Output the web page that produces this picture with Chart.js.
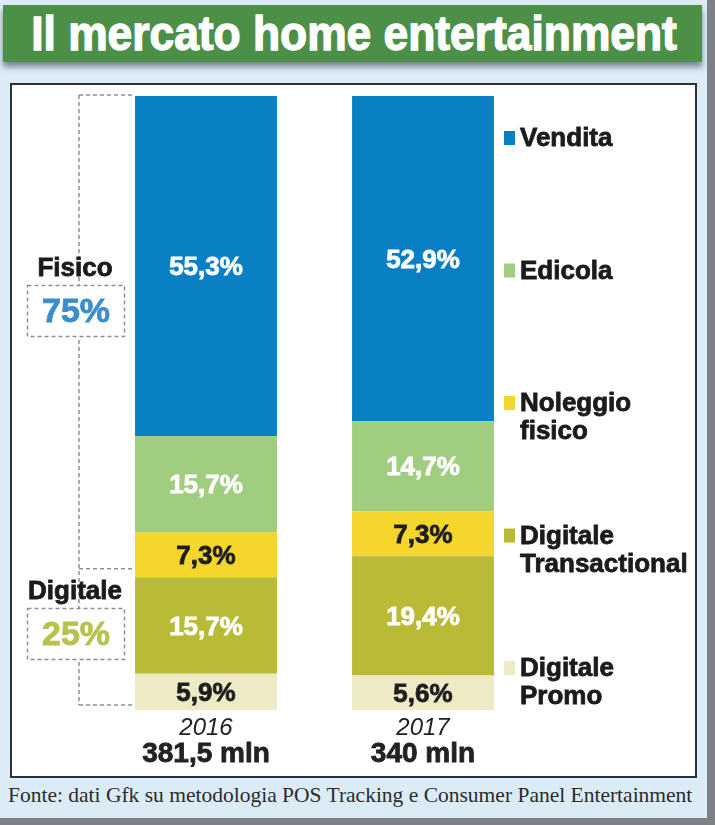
<!DOCTYPE html>
<html>
<head>
<meta charset="utf-8">
<script src="https://cdn.jsdelivr.net/npm/chart.js@4.4.1/dist/chart.umd.min.js"></script>
<style>
    body { margin: 0; width: 715px; height: 825px; background: #dcecf7; position: relative; overflow: hidden; font-family: "Liberation Sans", Arial, sans-serif; }
    #shadow-right { position: absolute; left: 707px; top: 0; width: 8px; height: 825px; background: #7d8185; }
    #shadow-bottom { position: absolute; left: 0; top: 818px; width: 715px; height: 7px; background: #7d8185; }
    #banner { position: absolute; left: 3px; top: 5px; width: 699px; height: 57px; background: #4c9047; box-shadow: 0 5px 6px rgba(40, 50, 60, 0.55); }
    #banner span { display: block; text-align: center; color: #fff; font-weight: bold; font-size: 49px; line-height: 57px; transform: translateX(-5px) scaleX(0.905); white-space: nowrap; -webkit-text-stroke: 1.4px #fff; }
    #panel { position: absolute; left: 10px; top: 83px; width: 683px; height: 691px; background: #fff; border: 2px solid #2e3133; }
    #footer { position: absolute; left: 8px; top: 783px; font-family: "Liberation Serif", "DejaVu Serif", serif; font-size: 21.5px; color: #2b2b2b; white-space: nowrap; }
    #chart { position: absolute; left: 0; top: 0; }
</style>
</head>
<body>
<div id="shadow-right"></div>
<div id="shadow-bottom"></div>
<div id="banner"><span>Il mercato home entertainment</span></div>
<div id="panel"></div>
<div id="footer">Fonte: dati Gfk su metodologia POS Tracking e Consumer Panel Entertainment</div>
<canvas id="chart" width="715" height="825"></canvas>

<script>
// Chart data
const years = ['2016', '2017'];
const totals = ['381,5 mln', '340 mln'];
const segments = ['Vendita', 'Edicola', 'Noleggio fisico', 'Digitale Transactional', 'Digitale Promo'];
const vendita = [55.3, 52.9];
const edicola = [15.7, 14.7];
const noleggio = [7.3, 7.3];
const digitaleTransactional = [15.7, 19.4];
const digitalePromo = [5.9, 5.6];
const groupNames = ['Fisico', 'Digitale'];
const groupShares = ['75%', '25%'];
const groupSplit = 23; // where the Fisico / Digitale bracket is split (% from bottom)

// Styles, top segment first
const segmentColors = ['#0a80c4', '#a0cd80', '#f4d62c', '#b9bb37', '#efeac6'];
const labelColors = ['#ffffff', '#ffffff', '#1e1e1e', '#ffffff', '#1e1e1e'];
const groupColors = ['#3a8ecb', '#b7c24c'];

const seriesValues = [vendita, edicola, noleggio, digitaleTransactional, digitalePromo];

function formatPct(v) {
    return v.toFixed(1).replace('.', ',') + '%';
}

// Stacked bars draw from the bottom up, so feed the series in reverse
const datasets = seriesValues.map((values, i) => ({
    label: segments[i],
    data: values,
    backgroundColor: segmentColors[i],
    labelColor: labelColors[i],
    borderWidth: 0,
    categoryPercentage: 1,
    barPercentage: 0.654
})).reverse();

function dashedLine(ctx, x1, y1, x2, y2) {
    ctx.beginPath();
    ctx.moveTo(x1, y1);
    ctx.lineTo(x2, y2);
    ctx.stroke();
}

// bold text drawn with a thin outline of the same colour, to get the heavy look
function heavyText(ctx, text, x, y, color) {
    ctx.fillStyle = color;
    ctx.strokeStyle = color;
    ctx.lineWidth = 0.8;
    ctx.fillText(text, x, y);
    ctx.strokeText(text, x, y);
}

const overlayPlugin = {
    id: 'overlay',
    afterDatasetsDraw(chart) {
        const ctx = chart.ctx;
        const xScale = chart.scales.x;
        const yScale = chart.scales.y;
        ctx.save();
        ctx.textAlign = 'center';
        ctx.textBaseline = 'middle';

        // Values inside the segments
        ctx.font = 'bold 26px "Liberation Sans", Arial, sans-serif';
        chart.data.datasets.forEach((ds, i) => {
            chart.getDatasetMeta(i).data.forEach((bar, j) => {
                heavyText(ctx, formatPct(ds.data[j]), bar.x, (bar.y + bar.base) / 2 + 2, ds.labelColor);
            });
        });

        // Year and total under each bar
        years.forEach((year, j) => {
            const cx = xScale.getPixelForValue(j);
            ctx.fillStyle = '#222';
            ctx.font = 'italic 24px "Liberation Sans", Arial, sans-serif';
            ctx.fillText(year, cx, yScale.bottom + 18);
            ctx.font = 'bold 28px "Liberation Sans", Arial, sans-serif';
            heavyText(ctx, totals[j], cx, yScale.bottom + 44, '#222');
        });

        // Legend on the right
        ctx.textAlign = 'left';
        ctx.font = 'bold 26px "Liberation Sans", Arial, sans-serif';
        segments.forEach((name, i) => {
            const top = yScale.top + 42 + i * 132.5;
            ctx.fillStyle = segmentColors[i];
            ctx.fillRect(504, top - 7, 11, 14);
            name.split(' ').forEach((word, k) => {
                heavyText(ctx, word, 520, top + 1 + k * 28, '#1b1b1b');
            });
        });

        // Fisico / Digitale bracket
        const firstBar = chart.getDatasetMeta(0).data[0];
        const barLeft = firstBar.x - firstBar.width / 2;
        const lineX = 79;
        const yTop = yScale.getPixelForValue(yScale.max) - 1;
        const ySplit = yScale.getPixelForValue(groupSplit);
        const yBottom = yScale.getPixelForValue(0) - 5;
        ctx.strokeStyle = '#8c9198';
        ctx.lineWidth = 1.5;
        ctx.setLineDash([4, 3]);
        dashedLine(ctx, lineX, yTop, lineX, yBottom);
        dashedLine(ctx, lineX, yTop, barLeft, yTop);
        dashedLine(ctx, lineX, ySplit, barLeft, ySplit);
        dashedLine(ctx, lineX, yBottom, barLeft, yBottom);

        const groupCenters = [268, 591];
        groupNames.forEach((name, g) => {
            const cy = groupCenters[g];
            ctx.setLineDash([]);
            ctx.fillStyle = '#fff';
            ctx.fillRect(27, cy + 17, 98, 52);
            ctx.setLineDash([4, 3]);
            ctx.strokeStyle = '#8c9198';
            ctx.lineWidth = 1.5;
            ctx.strokeRect(27.5, cy + 17.5, 97, 51);
            ctx.setLineDash([]);
            ctx.textAlign = 'center';
            ctx.font = 'bold 26px "Liberation Sans", Arial, sans-serif';
            heavyText(ctx, name, 75, cy + 1, '#1b1b1b');
            ctx.font = 'bold 34px "Liberation Sans", Arial, sans-serif';
            heavyText(ctx, groupShares[g], 76, cy + 45, groupColors[g]);
        });
        ctx.restore();
    }
};

new Chart(document.getElementById('chart').getContext('2d'), {
    type: 'bar',
    data: { labels: years, datasets: datasets },
    options: {
        responsive: false,
        devicePixelRatio: 1,
        animation: false,
        layout: { padding: { left: 97.5, right: 183.5, top: 96, bottom: 115 } },
        plugins: { legend: { display: false }, tooltip: { enabled: false } },
        scales: {
            x: { stacked: true, display: false },
            y: { stacked: true, display: false, min: 0, max: 99.9 }
        }
    },
    plugins: [overlayPlugin]
});
</script>
</body>
</html>
